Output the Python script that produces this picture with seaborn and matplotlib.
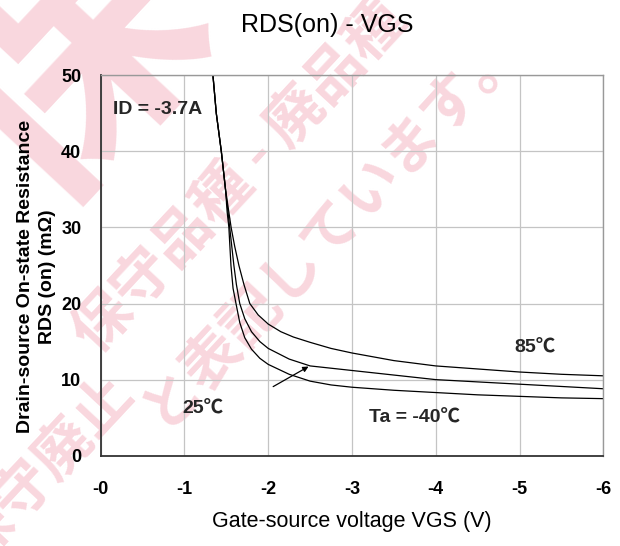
"""RDS(on) - VGS characteristic, redrawn with seaborn."""

import matplotlib
matplotlib.use("Agg")
import pandas as pd
import seaborn as sns
from matplotlib import pyplot as plt

# values (VGS in volts, RDS(on) in milliohm)
VGS_85C = [-1.34, -1.38, -1.44, -1.49, -1.53, -1.557, -1.6, -1.65, -1.71, -1.78, -1.88, -2.0, -2.15, -2.3, -2.5, -2.75, -3.0, -3.5, -4.0, -4.5, -5.0, -5.5, -6.0]
RDS_85C = [50, 45, 40, 35, 32, 30, 27.5, 25, 22.5, 20, 18.5, 17.3, 16.3, 15.6, 14.9, 14.1, 13.5, 12.5, 11.8, 11.4, 11.0, 10.7, 10.5]

VGS_25C = [-1.34, -1.38, -1.44, -1.49, -1.52, -1.54, -1.565, -1.59, -1.62, -1.66, -1.72, -1.8, -1.9, -2.0, -2.25, -2.5, -2.75, -3.0, -3.5, -4.0, -4.5, -5.0, -5.5, -6.0]
RDS_25C = [50, 45, 40, 35, 32, 30, 27.5, 25, 22.5, 20, 18.0, 16.3, 15.0, 14.1, 12.7, 11.8, 11.5, 11.2, 10.6, 10.0, 9.7, 9.4, 9.1, 8.8]

VGS_M40C = [-1.34, -1.38, -1.44, -1.49, -1.51, -1.53, -1.555, -1.58, -1.615, -1.66, -1.72, -1.8, -1.9, -2.0, -2.25, -2.5, -2.75, -3.0, -3.5, -4.0, -4.5, -5.0, -5.5, -6.0]
RDS_M40C = [50, 45, 40, 35, 32, 30, 25, 22, 20, 17.5, 15.5, 14.0, 12.8, 12.0, 10.7, 9.8, 9.3, 9.0, 8.6, 8.3, 8.0, 7.8, 7.6, 7.5]

X_TICKS = [0, -1, -2, -3, -4, -5, -6]
X_LABELS = ["-0", "-1", "-2", "-3", "-4", "-5", "-6"]
Y_TICKS = [0, 10, 20, 30, 40, 50]

INK = "#000000"
GRID = "#C4C4C4"
PINK = "#F9D7DE"
FONTS = ["Liberation Sans", "Noto Sans CJK JP", "DejaVu Sans"]
CJK = ["Noto Sans CJK JP", "DejaVu Sans"]

sns.set_theme(style="white")
plt.rcParams["font.family"] = FONTS

curves = pd.concat([
    pd.DataFrame({"vgs": VGS_85C, "rds": RDS_85C, "ta": "85"}),
    pd.DataFrame({"vgs": VGS_25C, "rds": RDS_25C, "ta": "25"}),
    pd.DataFrame({"vgs": VGS_M40C, "rds": RDS_M40C, "ta": "-40"}),
])

fig = plt.figure(figsize=(6.2, 5.46), dpi=100, facecolor="white")
W, H = 620, 546


def stamp(x, y, s, size, rot=47):
    # pink watermark, drawn under the axes
    fig.text(x / W, 1 - y / H, s, fontsize=size, color=PINK, rotation=rot, fontweight="bold",
             ha="center", va="center", family=CJK, zorder=-5)


stamp(70, 70, "保", 190)
stamp(240, 178, "保守品種 - 廃品種", 42)
stamp(330, 225, "と表記しています。", 42)
stamp(45, 470, "保守廃止", 42)

ax = fig.add_axes([100.7 / W, 1 - 455.7 / H, 502.6 / W, 380.4 / H])
ax.set_facecolor("none")

sns.lineplot(data=curves, x="vgs", y="rds", hue="ta", palette={"85": INK, "25": INK, "-40": INK},
             linewidth=0.9, legend=False, sort=False, estimator=None, ax=ax)

ax.set_xlim(0, -6)
ax.set_ylim(0, 50)
ax.set_xticks(X_TICKS)
ax.set_xticklabels(X_LABELS)
ax.set_yticks(Y_TICKS)
ax.grid(True, color=GRID, linewidth=0.9)
ax.tick_params(direction="in", length=5, width=1, color="#333333", labelsize=13, labelcolor=INK)
ax.tick_params(axis="x", pad=18)
ax.tick_params(axis="y", pad=14)
for lbl in ax.get_xticklabels() + ax.get_yticklabels():
    lbl.set_fontweight("bold")
for side in ["left", "bottom"]:
    ax.spines[side].set_color("#333333")
    ax.spines[side].set_linewidth(1.3)
for side in ["top", "right"]:
    ax.spines[side].set_color("#999999")
    ax.spines[side].set_linewidth(1.0)

ax.set_xlabel("Gate-source voltage VGS (V)", fontsize=15.5, color=INK)
ax.xaxis.set_label_coords(0.5, -0.145)
ax.set_ylabel("Drain-source On-state Resistance\nRDS (on) (mΩ)", fontsize=14,
              fontweight="bold", color=INK, linespacing=1.45)
ax.yaxis.set_label_coords(-0.088, 0.47)

ax.text(-0.15, 45.5, "ID = -3.7A", fontsize=14, fontweight="bold", ha="left", va="center")
ax.text(-5.18, 14.2, "85℃", fontsize=14, fontweight="bold", ha="center", va="center")
ax.text(-1.22, 6.2, "25℃", fontsize=14, fontweight="bold", ha="center", va="center")
ax.text(-3.75, 4.9, "Ta = -40℃", fontsize=14, fontweight="bold", ha="center", va="center")
ax.annotate("", xy=(-2.51, 11.9), xytext=(-2.03, 8.9),
            arrowprops=dict(arrowstyle="-|>", color=INK, lw=0.9, mutation_scale=8))

fig.text(327 / W, 1 - 25 / H, "RDS(on) - VGS", fontsize=18, color=INK, ha="center", va="center")

fig.savefig("out.png", dpi=100, facecolor="white")
